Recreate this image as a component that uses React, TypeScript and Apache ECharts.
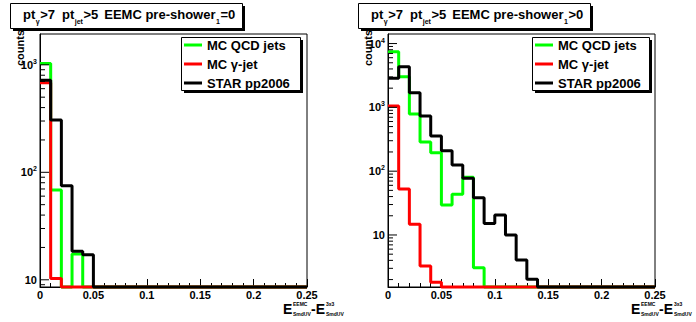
import React, { useEffect, useRef } from 'react';
import * as echarts from 'echarts';

const FONT = '"Liberation Sans", Arial, Helvetica, sans-serif';

// histogram binning (structure)
const BIN_WIDTH = 0.01;
const X_MIN = 0;
const X_MAX = 0.25;
const X_INTERVAL = 0.05;

const seriesNames = ['MC QCD jets', 'MC γ-jet', 'STAR pp2006'];
const seriesColors = ['#00ff00', '#ff0000', '#000000'];

// Left panel: EEMC pre-shower1 = 0 (25 bins of 0.01)
const leftQCD = [1030, 68.4, 0, 17.4, 0, 0, 0, 0, 0, 0, 0, 0, 0, 0, 0, 0, 0, 0, 0, 0, 0, 0, 0, 0, 0];
const leftGamma = [680, 10.3, 0, 0, 0, 0, 0, 0, 0, 0, 0, 0, 0, 0, 0, 0, 0, 0, 0, 0, 0, 0, 0, 0, 0];
const leftStar = [720, 307, 75, 18.4, 17.1, 0, 0, 0, 0, 0, 0, 0, 0, 0, 0, 0, 0, 0, 0, 0, 0, 0, 0, 0, 0];

// Right panel: EEMC pre-shower1 > 0
const rightQCD = [7450, 3020, 787, 286, 195, 29.5, 43.4, 80.1, 3.07, 0, 0, 0, 0, 0, 0, 0, 0, 0, 0, 0, 0, 0, 0, 0, 0];
const rightGamma = [1050, 52.5, 14.7, 3.26, 1.81, 0, 0, 0, 0, 0, 0, 0, 0, 0, 0, 0, 0, 0, 0, 0, 0, 0, 0, 0, 0];
const rightStar = [2850, 4340, 1700, 732, 356, 209, 125, 77.3, 38.4, 15.2, 20.6, 10, 4.05, 2.02, 0, 0, 0, 0, 0, 0, 0, 0, 0, 0, 0];

const leftYRange = [8.57, 1935];
const rightYRange = [1.53, 14120];

const panelTitleSuffix = ['=0', '>0'];

const panels = [
  { left: 40, top: 34, width: 267, height: 253, ox: 0, legendX: 181, legendW: 119, titleW: 232 },
  { left: 388, top: 34, width: 267, height: 253, ox: 348, legendX: 532, legendW: 117, titleW: 232 },
];

const panelData = [
  [leftQCD, leftGamma, leftStar],
  [rightQCD, rightGamma, rightStar],
];
const yRanges = [leftYRange, rightYRange];

function histData(vals: number[], floor: number) {
  const pts: number[][] = vals.map((v, i) => [i * BIN_WIDTH, v > 0 ? v : floor]);
  const last = vals[vals.length - 1];
  pts.push([vals.length * BIN_WIDTH, last > 0 ? last : floor]);
  return pts;
}

let measureCtx: CanvasRenderingContext2D | null = null;
function textWidth(s: string, fs: number) {
  if (!measureCtx) measureCtx = document.createElement('canvas').getContext('2d');
  if (!measureCtx) return s.length * fs * 0.6;
  measureCtx.font = `bold ${fs}px ${FONT}`;
  return measureCtx.measureText(s).width;
}

function txt(x: number, y: number, text: string, fs: number, extra: any = {}) {
  return {
    type: 'text',
    x,
    y,
    z: 20,
    ...extra,
    style: {
      text,
      fontSize: fs,
      fontWeight: 'bold',
      fontFamily: FONT,
      fill: '#000',
      align: 'left',
      verticalAlign: 'middle',
      ...(extra.style || {}),
    },
  };
}

function titleElements(ox: number, suffix: string) {
  const tokens = [
    { t: 'pt', sub: false, gap: 0 },
    { t: 'γ', sub: true, gap: 0.5 },
    { t: '>7', sub: false, gap: 0.5 },
    { t: 'pt', sub: false, gap: 7 },
    { t: 'jet', sub: true, gap: 0.5 },
    { t: '>5', sub: false, gap: 0.5 },
    { t: 'EEMC pre-shower', sub: false, gap: 6 },
    { t: '1', sub: true, gap: 0.5 },
    { t: suffix, sub: false, gap: 0.5 },
  ];
  let x = ox + 23;
  const els: any[] = [];
  tokens.forEach((tok) => {
    x += tok.gap;
    const fs = tok.sub ? 7 : 13;
    els.push(txt(x, tok.sub ? 21 : 14, tok.t, fs));
    x += textWidth(tok.t, fs);
  });
  return els;
}

function xTitleElements(R: number) {
  return [
    txt(R - 24, 308.5, 'E', 14),
    txt(R - 14, 303.5, 'EEMC', 5),
    txt(R - 14, 314, 'SmdUV', 5),
    txt(R + 4, 308.5, '-E', 14),
    txt(R + 19, 303.5, '3x3', 5),
    txt(R + 19, 314, 'SmdUV', 5),
  ];
}

export default function App() {
  const ref = useRef<HTMLDivElement>(null);

  useEffect(() => {
    const el = ref.current;
    if (!el) return;
    document.body.style.margin = '0';
    const chart = echarts.init(el, null, { renderer: 'svg', width: 696, height: 322 });

    const labelFormatter = (v: number) => {
      const n = Math.log10(v);
      const r = Math.round(n);
      if (Math.abs(n - r) > 1e-6) return '';
      if (r === 1) return '10';
      return '10{sup|' + r + '}';
    };

    const series: any[] = [];
    panels.forEach((p, i) => {
      panelData[i].forEach((vals, k) => {
        series.push({
          type: 'line',
          name: seriesNames[k],
          xAxisIndex: i,
          yAxisIndex: i,
          data: histData(vals, yRanges[i][0]),
          step: 'end',
          symbol: 'none',
          showSymbol: false,
          color: seriesColors[k],
          lineStyle: { color: seriesColors[k], width: 3 },
          clip: false,
          z: 2,
          animation: false,
        });
      });
    });

    const option: any = {
      animation: false,
      backgroundColor: '#fff',
      grid: panels.map((p) => ({
        left: p.left,
        top: p.top,
        width: p.width,
        height: p.height,
        show: true,
        borderColor: '#000',
        borderWidth: 1,
        backgroundColor: 'transparent',
        containLabel: false,
        outerBoundsMode: 'none',
      })),
      xAxis: panels.map((p, i) => ({
        type: 'value',
        gridIndex: i,
        min: X_MIN,
        max: X_MAX,
        interval: X_INTERVAL,
        axisLine: { show: true, onZero: false, lineStyle: { color: '#000', width: 1 } },
        axisTick: { show: true, inside: true, length: 8, lineStyle: { color: '#000', width: 1 } },
        minorTick: { show: true, splitNumber: 5, length: 4, lineStyle: { color: '#000', width: 1 } },
        splitLine: { show: false },
        minorSplitLine: { show: false },
        axisLabel: {
          fontSize: 11,
          fontWeight: 'bold',
          fontFamily: FONT,
          color: '#000',
          margin: 2,
          showMinLabel: true,
          showMaxLabel: true,
        },
      })),
      yAxis: panels.map((p, i) => ({
        type: 'log',
        logBase: 10,
        gridIndex: i,
        min: yRanges[i][0],
        max: yRanges[i][1],
        axisLine: { show: true, lineStyle: { color: '#000', width: 1 } },
        axisTick: { show: false },
        minorTick: { show: false },
        splitLine: { show: false },
        axisLabel: {
          fontSize: 11,
          fontWeight: 'bold',
          fontFamily: FONT,
          color: '#000',
          margin: 3,
          lineHeight: 14,
          formatter: labelFormatter,
          rich: {
            sup: {
              fontSize: 7,
              fontWeight: 'bold',
              fontFamily: FONT,
              color: '#000',
              lineHeight: 8,
              verticalAlign: 'top',
            },
          },
        },
      })),
      legend: panels.map((p) => ({
        data: seriesNames,
        orient: 'vertical',
        left: p.legendX + 3,
        top: 37,
        padding: 0,
        itemGap: 3,
        itemWidth: 18,
        itemHeight: 3,
        icon: 'rect',
        selectedMode: false,
        textStyle: { fontSize: 13, fontWeight: 'bold', fontFamily: FONT, color: '#000', lineHeight: 16 },
        z: 10,
      })),
      series,
    };

    chart.setOption(option);

    const graphics: any[] = [];
    panels.forEach((p, i) => {
      const ox = p.ox;
      // title box
      graphics.push({ type: 'rect', z: 15, shape: { x: ox + 13, y: 6, width: p.titleW, height: 25 }, style: { fill: '#000' } });
      graphics.push({ type: 'rect', z: 16, shape: { x: ox + 10.5, y: 3.5, width: p.titleW, height: 25 }, style: { fill: '#fff', stroke: '#000', lineWidth: 1 } });
      graphics.push(...titleElements(ox, panelTitleSuffix[i]));
      // legend box
      graphics.push({ type: 'rect', z: 3, shape: { x: p.legendX + 3, y: 40, width: p.legendW, height: 53 }, style: { fill: '#000' } });
      graphics.push({ type: 'rect', z: 3, shape: { x: p.legendX + 0.5, y: 37.5, width: p.legendW, height: 53 }, style: { fill: '#fff', stroke: '#000', lineWidth: 1 } });
      // y title
      graphics.push(txt(ox + 19.5, 48, 'counts', 11, { rotation: Math.PI / 2, style: { align: 'center', verticalAlign: 'middle' } }));
      // x title
      graphics.push(...xTitleElements(p.left + p.width));
      // y ticks (log major + minor)
      const [ymin, ymax] = yRanges[i];
      for (let n = Math.floor(Math.log10(ymin)); n <= Math.ceil(Math.log10(ymax)); n++) {
        for (let k = 1; k <= 9; k++) {
          const v = k * Math.pow(10, n);
          if (v <= ymin || v >= ymax) continue;
          const py = chart.convertToPixel({ yAxisIndex: i } as any, v) as unknown as number;
          const len = k === 1 ? 9 : 5;
          graphics.push({
            type: 'line',
            z: 5,
            shape: { x1: p.left, y1: py, x2: p.left + len, y2: py },
            style: { stroke: '#000', lineWidth: 1 },
          });
        }
      }
    });

    chart.setOption({ graphic: { elements: graphics } });

    return () => {
      chart.dispose();
    };
  }, []);

  return (
    <div
      ref={ref}
      style={{ position: 'absolute', left: 0, top: 0, width: 696, height: 322, background: '#fff' }}
    />
  );
}
